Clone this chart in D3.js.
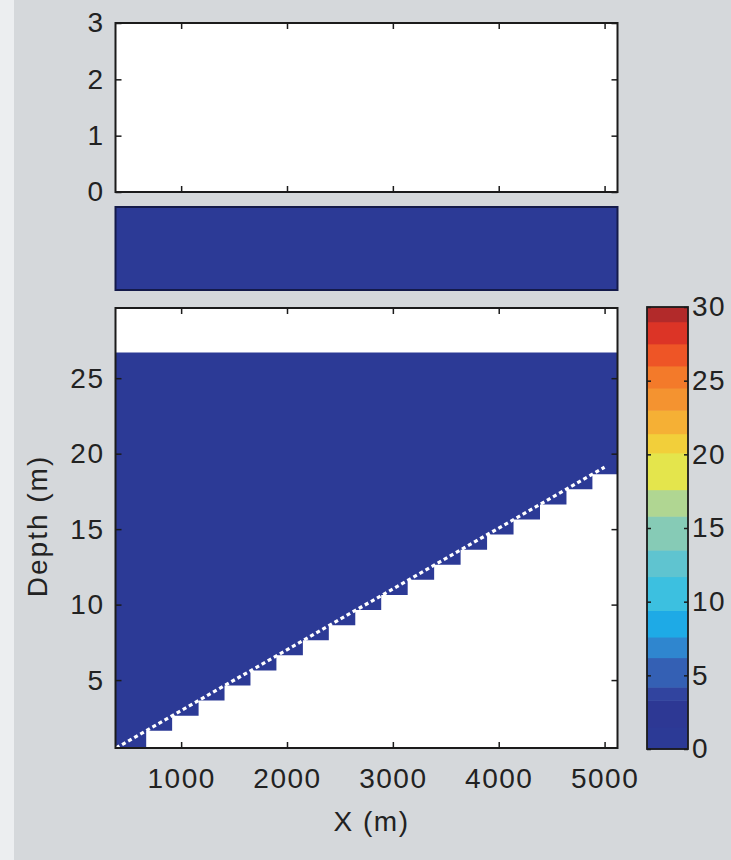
<!DOCTYPE html>
<html>
<head>
<meta charset="utf-8">
<script src="https://cdn.jsdelivr.net/npm/d3@7"></script>
<style>
  html, body { margin: 0; padding: 0; background: #d5d8db; }
  svg { display: block; }
  text { font-family: "Liberation Sans", Arial, sans-serif; fill: #222; }
</style>
</head>
<body>
<script>
// ---------- data ----------
const xDomain = [380, 5122];
const xTicks = [1000, 2000, 3000, 4000, 5000];
const topYDomain = [0, 3];
const topYTicks = [0, 1, 2, 3];
const depthDomain = [0.5, 29.65];
const depthTicks = [5, 10, 15, 20, 25];
const waterTop = 26.7;
// staircase columns of the wet grid (left edge in m, bottom depth in m)
const colLeft   = [380, 670, 915, 1165, 1410, 1655, 1900, 2150, 2395, 2645, 2890, 3140, 3390, 3640, 3890, 4140, 4390, 4640, 4885];
const colBottom = [0.5, 1.64, 2.64, 3.64, 4.64, 5.64, 6.64, 7.64, 8.64, 9.64, 10.64, 11.64, 12.64, 13.64, 14.64, 15.64, 16.64, 17.64, 18.64];
const wetValue = 0;
// bathymetry line
const lineX = [385, 5000];
const lineDepth = [0.5, 19.1];
// middle strip value
const stripValue = 0;
// colorbar
const cbDomain = [0, 30];
const cbTicks = [0, 5, 10, 15, 20, 25, 30];
const cbEdges  = [0, 1.5, 3.3, 4.2, 6.2, 7.6, 9.4, 11.7, 13.5, 15.8, 17.6, 20.1, 21.4, 23, 24.5, 26, 27.5, 29, 30];
const cbColors = ["#2c3a96", "#2d3894", "#31449f", "#3460b4", "#2f86cf", "#1eaae6", "#3cc0e0", "#5fc4d0",
                  "#86cbb6", "#b0d692", "#e4e54c", "#f2cf3a", "#f5b035", "#f49330", "#f37a2a", "#ee5526", "#dc3426", "#b22a2a"];

// ---------- layout ----------
const W = 731, H = 860;
const plotL = 115.5, plotR = 617.5;
const topP = {y0: 23, y1: 192};
const midP = {y0: 207, y1: 290};
const botP = {y0: 308, y1: 748};
const cbP  = {x0: 647, x1: 688, y0: 307, y1: 749};
const FS = 28;
const frameColor = "#1b1b1b";

const svg = d3.select("body").append("svg").attr("width", W).attr("height", H);
svg.append("rect").attr("width", W).attr("height", H).attr("fill", "#d5d8db");
svg.append("rect").attr("width", 14).attr("height", H).attr("fill", "#eceef0");

const colorScale = d3.scaleThreshold().domain(cbEdges.slice(1, -1)).range(cbColors);

const x = d3.scaleLinear().domain(xDomain).range([plotL, plotR]);

function styleAxis(g, showText) {
  g.select(".domain").remove();
  g.selectAll(".tick line").attr("stroke", frameColor).attr("stroke-width", 1.5);
  g.selectAll(".tick text").attr("font-size", FS).attr("fill", "#222")
    .style("letter-spacing", "1.5px").attr("font-family", null);
  if (!showText) g.selectAll(".tick text").remove();
}

// ---------- top panel ----------
const yTop = d3.scaleLinear().domain(topYDomain).range([topP.y1, topP.y0]);
svg.append("rect").attr("x", plotL).attr("y", topP.y0).attr("width", plotR - plotL).attr("height", topP.y1 - topP.y0)
  .attr("fill", "#ffffff");
svg.append("g").attr("transform", `translate(0,${topP.y1})`)
  .call(d3.axisBottom(x).tickValues(xTicks).tickSize(-6)).call(g => styleAxis(g, false));
svg.append("g").attr("transform", `translate(0,${topP.y0})`)
  .call(d3.axisTop(x).tickValues(xTicks).tickSize(-6)).call(g => styleAxis(g, false));
svg.append("g").attr("transform", `translate(${plotL},0)`)
  .call(d3.axisLeft(yTop).tickValues(topYTicks).tickSize(-6).tickPadding(11).tickFormat(d3.format("d")))
  .call(g => styleAxis(g, true));
svg.append("g").attr("transform", `translate(${plotR},0)`)
  .call(d3.axisRight(yTop).tickValues(topYTicks).tickSize(-6)).call(g => styleAxis(g, false));
svg.append("rect").attr("x", plotL).attr("y", topP.y0).attr("width", plotR - plotL).attr("height", topP.y1 - topP.y0)
  .attr("fill", "none").attr("stroke", frameColor).attr("stroke-width", 2);

// ---------- middle strip ----------
svg.append("rect").attr("x", plotL).attr("y", midP.y0).attr("width", plotR - plotL).attr("height", midP.y1 - midP.y0)
  .attr("fill", colorScale(stripValue)).attr("stroke", "#141a4a").attr("stroke-width", 2);

// ---------- bottom panel ----------
const yD = d3.scaleLinear().domain(depthDomain).range([botP.y1, botP.y0]);
svg.append("defs").append("clipPath").attr("id", "clipB").append("rect")
  .attr("x", plotL).attr("y", botP.y0).attr("width", plotR - plotL).attr("height", botP.y1 - botP.y0);
svg.append("rect").attr("x", plotL).attr("y", botP.y0).attr("width", plotR - plotL).attr("height", botP.y1 - botP.y0)
  .attr("fill", "#ffffff");
const gB = svg.append("g").attr("clip-path", "url(#clipB)");
const steps = colLeft.map((l, i) => ({x: l, b: colBottom[i]}));
steps.push({x: xDomain[1], b: colBottom[colBottom.length - 1]});
gB.append("path").datum(steps)
  .attr("d", d3.area().curve(d3.curveStepAfter)
    .x(d => x(d.x)).y0(d => yD(Math.max(d.b, depthDomain[0]))).y1(yD(waterTop)))
  .attr("fill", colorScale(wetValue));
const lineData = lineX.map((v, i) => [v, lineDepth[i]]);
gB.append("path").datum(lineData)
  .attr("d", d3.line().x(d => x(d[0])).y(d => yD(d[1])))
  .attr("fill", "none").attr("stroke", "#ffffff").attr("stroke-width", 3.2).attr("stroke-dasharray", "4,3");

svg.append("g").attr("transform", `translate(0,${botP.y1})`)
  .call(d3.axisBottom(x).tickValues(xTicks).tickSize(-6).tickPadding(20).tickFormat(d3.format("d")))
  .call(g => styleAxis(g, true));
svg.append("g").attr("transform", `translate(0,${botP.y0})`)
  .call(d3.axisTop(x).tickValues(xTicks).tickSize(-6)).call(g => styleAxis(g, false));
svg.append("g").attr("transform", `translate(${plotL},0)`)
  .call(d3.axisLeft(yD).tickValues(depthTicks).tickSize(-6).tickPadding(11).tickFormat(d3.format("d")))
  .call(g => styleAxis(g, true));
svg.append("g").attr("transform", `translate(${plotR},0)`)
  .call(d3.axisRight(yD).tickValues(depthTicks).tickSize(-6)).call(g => styleAxis(g, false));
svg.append("rect").attr("x", plotL).attr("y", botP.y0).attr("width", plotR - plotL).attr("height", botP.y1 - botP.y0)
  .attr("fill", "none").attr("stroke", frameColor).attr("stroke-width", 2);

svg.append("text").attr("x", (plotL + plotR) / 2 + 5).attr("y", 831).attr("text-anchor", "middle")
  .attr("font-size", FS).style("letter-spacing", "1.5px").text("X (m)");
svg.append("text").attr("transform", `translate(47,${526}) rotate(-90)`).attr("text-anchor", "middle")
  .attr("font-size", FS).style("letter-spacing", "2px").text("Depth (m)");

// ---------- colorbar ----------
const yC = d3.scaleLinear().domain(cbDomain).range([cbP.y1, cbP.y0]);
const bands = cbColors.map((c, i) => ({lo: cbEdges[i], hi: cbEdges[i + 1], c}));
svg.selectAll("rect.band").data(bands).join("rect").attr("class", "band")
  .attr("x", cbP.x0).attr("width", cbP.x1 - cbP.x0)
  .attr("y", d => yC(d.hi)).attr("height", d => yC(d.lo) - yC(d.hi) + 0.5)
  .attr("fill", d => d.c);
svg.append("g").attr("transform", `translate(${cbP.x0},0)`)
  .call(d3.axisLeft(yC).tickValues(cbTicks).tickSize(-4)).call(g => styleAxis(g, false));
svg.append("g").attr("transform", `translate(${cbP.x1},0)`)
  .call(d3.axisRight(yC).tickValues(cbTicks).tickSize(-4).tickPadding(4).tickFormat(d3.format("d")))
  .call(g => styleAxis(g, true));
svg.append("rect").attr("x", cbP.x0).attr("y", cbP.y0).attr("width", cbP.x1 - cbP.x0).attr("height", cbP.y1 - cbP.y0)
  .attr("fill", "none").attr("stroke", frameColor).attr("stroke-width", 1.8);
</script>
</body>
</html>
